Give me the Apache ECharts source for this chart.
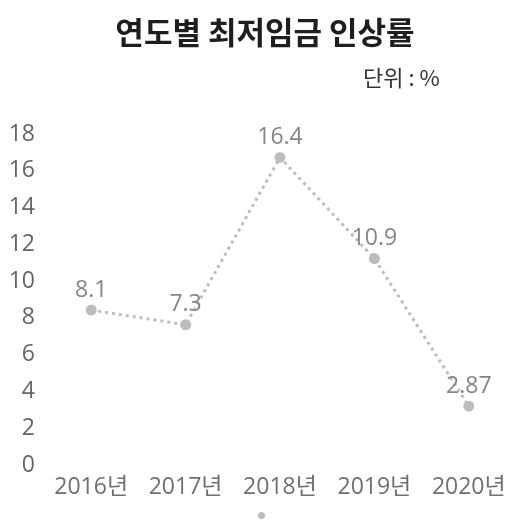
<!DOCTYPE html>
<html>
<head>
<meta charset="utf-8">
<script src="https://cdn.jsdelivr.net/npm/echarts@6/dist/echarts.min.js"></script>
<style>
  html, body { margin: 0; padding: 0; background: #fff; }
  #chart { width: 530px; height: 530px; }
</style>
</head>
<body>
<div id="chart"></div>
<script>
// 연도별 최저임금 인상률 (단위 : %)
const years = ['2016년', '2017년', '2018년', '2019년', '2020년'];
const rates = [8.1, 7.3, 16.4, 10.9, 2.87];
const yTicks = { min: 0, max: 18, interval: 2 };

const font = "'Open Sans', 'Noto Sans CJK KR', sans-serif";

const chart = echarts.init(document.getElementById('chart'));
chart.setOption({
    backgroundColor: '#fff',
    title: [
        {
            text: '연도별 최저임금 인상률',
            left: 'center',
            top: 12,
            textStyle: { fontFamily: "'Noto Sans CJK KR', sans-serif", fontWeight: 'bold', fontSize: 31, color: '#1e1e1e' }
        },
        {
            text: '단위 : %',
            left: 358,
            top: 62,
            textStyle: { fontFamily: "'Noto Sans CJK KR', sans-serif", fontWeight: 'normal', fontSize: 22, color: '#333' }
        }
    ],
    legend: {
        bottom: 6,
        left: 253,
        icon: 'circle',
        itemWidth: 7,
        itemHeight: 7,
        itemGap: 0,
        data: [' '],
        textStyle: { fontSize: 1 }
    },
    grid: { left: 44, right: 14, top: 128, bottom: 71 },
    xAxis: {
        type: 'category',
        data: years,
        axisLine: { show: false },
        axisTick: { show: false },
        axisLabel: { interval: 0, color: '#707070', fontSize: 23, fontFamily: font, margin: 17 }
    },
    yAxis: {
        type: 'value',
        min: yTicks.min,
        max: yTicks.max,
        interval: yTicks.interval,
        splitLine: { show: false },
        axisLine: { show: false },
        axisTick: { show: false },
        axisLabel: {
            color: '#666', fontSize: 23, fontFamily: font, margin: 9,
            verticalAlign: 'top', lineHeight: 12
        }
    },
    series: [{
        name: ' ',
        type: 'line',
        data: rates,
        symbol: 'circle',
        symbolSize: 11,
        itemStyle: { color: '#bdbdbd' },
        lineStyle: { color: '#bdbdbd', width: 3, type: [3, 4] },
        label: {
            show: true,
            position: 'top',
            distance: 3,
            color: '#858585',
            fontSize: 23,
            fontFamily: font
        }
    }]
});
</script>
</body>
</html>
